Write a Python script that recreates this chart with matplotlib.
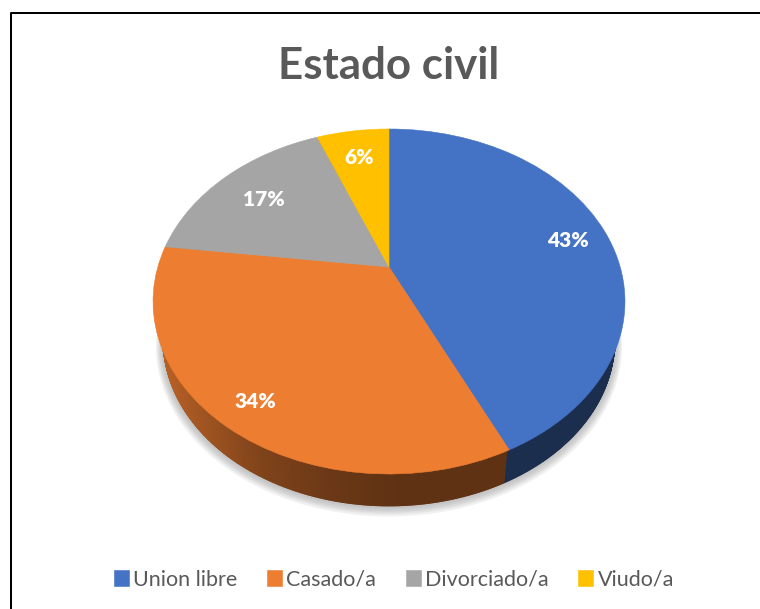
import numpy as np
import matplotlib
matplotlib.use("Agg")
import matplotlib.pyplot as plt
from matplotlib.collections import PolyCollection
from matplotlib.transforms import Affine2D, Transform

categories = ["Union libre", "Casado/a", "Divorciado/a", "Viudo/a"]
values = [43, 34, 17, 6]
colors = ["#4472C4", "#ED7D31", "#A5A5A5", "#FFC000"]
label_radius = [0.82, 0.85, 0.75, 0.80]

plt.rcParams["font.family"] = ["Lato", "DejaVu Sans"]

# where the tilted disc sits in the picture, in pixels
APEX_X, APEX_Y = 389, 267
SCALE_X, SCALE_Y, TILT = 231.2, 165.6, 0.2
BOTTOM_SCALE, BOTTOM_DROP = 0.955, 41


class Tilted(Transform):
    "Perspective view of the unit circle, output in image pixels"
    input_dims = 2
    output_dims = 2

    def transform_non_affine(self, xy):
        xy = np.asarray(xy, dtype=float)
        d = 1 + TILT * xy[:, 1]
        return np.column_stack(
            [APEX_X + SCALE_X * xy[:, 0] / d, APEX_Y - SCALE_Y * xy[:, 1] / d]
        )


def rim(theta, r=1.0):
    t = np.radians(theta)
    return Tilted().transform_non_affine(np.column_stack([r * np.cos(t), r * np.sin(t)]))


def lower_rim(theta, grow=1.0, drop=0.0):
    pts = rim(theta)
    s = BOTTOM_SCALE * grow
    return np.column_stack(
        [
            APEX_X + (pts[:, 0] - APEX_X) * s,
            APEX_Y + (pts[:, 1] - APEX_Y) * s + BOTTOM_DROP + drop,
        ]
    )


def shade(color, x):
    "The wall gets darker towards the middle of the pie"
    f = np.interp(x, [170, 190, 260, 330, 400], [0.76, 0.70, 0.54, 0.45, 0.40])
    return np.array(matplotlib.colors.to_rgb(color)) * f


fig = plt.figure(figsize=(7.6, 6.09), dpi=100)
ax = fig.add_axes([0, 0, 1, 1])

wedges, texts, autotexts = ax.pie(
    values,
    colors=colors,
    startangle=90,
    counterclock=False,
    autopct="%.0f%%",
    wedgeprops={"zorder": 4},
)
tilted = Tilted() + ax.transData
for w in wedges:
    w.set_transform(tilted)
    w.set_edgecolor(w.get_facecolor())
    w.set_linewidth(0.4)

# soft shadow under the wall
all_round = np.linspace(0, 360, 241)
for grow, drop in [(1.034, 4), (1.028, 3), (1.022, 2.5), (1.016, 2), (1.01, 1)]:
    ax.fill(*lower_rim(all_round, grow, drop).T, color="#7f7f7f", alpha=0.11, lw=0, zorder=1)

# side wall of each slice, top edge kept just inside the disc
for w, color in zip(wedges, colors):
    steps = np.linspace(w.theta1, w.theta2, 401)
    top, bottom = rim(steps, 0.985), lower_rim(steps)
    quads, faces = [], []
    for i in range(len(steps) - 1):
        quads.append([top[i], top[i + 1], bottom[i + 1], bottom[i]])
        faces.append(shade(color, top[i, 0]))
    ax.add_collection(PolyCollection(quads, facecolors=faces, edgecolors="face", linewidths=1.0, zorder=2))

label_tf = tilted + Affine2D().translate(0, -2.5)
for w, at, r in zip(wedges, autotexts, label_radius):
    mid = np.radians((w.theta1 + w.theta2) / 2)
    at.set_position((r * np.cos(mid), r * np.sin(mid)))
    at.set_transform(label_tf)
    at.set(color="white", fontweight="heavy", fontsize=15, zorder=5)

ax.set_aspect("auto")
ax.set_xlim(0, 760)
ax.set_ylim(609, 0)
ax.set_frame_on(False)

# chart border, only the left and top show
ax.plot([11, 11, 760], [609, 13, 13], color="black", lw=1.45, zorder=6, clip_on=False)

ax.text(389, 66, "Estado civil", ha="center", va="center", fontsize=31.6, fontweight="bold", color="#595959")

fig.legend(
    wedges,
    categories,
    loc="center",
    bbox_to_anchor=(394 / 760, 1 - 579.5 / 609),
    ncol=4,
    frameon=False,
    fontsize=15.5,
    labelcolor="#595959",
    handlelength=0.7,
    handleheight=0.7,
    handletextpad=0.2,
    columnspacing=1.37,
)

plt.savefig("out.png", dpi=100)
